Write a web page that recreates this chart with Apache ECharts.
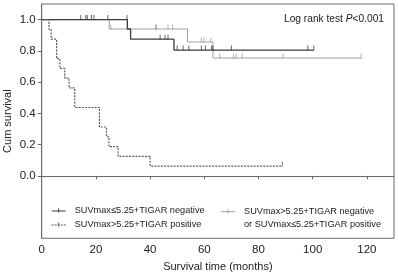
<!DOCTYPE html>
<html><head><meta charset="utf-8">
<script src="https://cdn.jsdelivr.net/npm/echarts@6/dist/echarts.min.js"></script>
<style>html,body{margin:0;padding:0;background:#fff}#c{width:398px;height:279px}</style>
</head><body><div id="c"></div>
<script>
// ---- data ----
var names = ['SUVmax≤5.25+TIGAR negative', 'SUVmax>5.25+TIGAR positive', 'SUVmax>5.25+TIGAR negative'];
var legend3Label = 'SUVmax>5.25+TIGAR negative\nor SUVmax≤5.25+TIGAR positive';

var negTimes = [0, 31.6, 32.8, 48.8, 100.4];
var negSurv  = [1.0, 0.94, 0.875, 0.805, 0.805];
var negCensor = [14.4, 16.3, 16.8, 18.4, 19.3, 24.4, 31.5, 43.7, 45.5, 46.6, 50.0, 52.2, 54.3, 58.9, 60.4, 62.7, 63.2, 70.0, 98.2, 100.4];

var posTimes = [0, 2.7, 3.5, 5.5, 6.7, 8.5, 10.1, 12.2, 21.3, 23.9, 24.8, 28.2, 40.0, 88.8];
var posSurv  = [1.0, 0.9375, 0.875, 0.75, 0.6875, 0.625, 0.5625, 0.4375, 0.3125, 0.25, 0.1875, 0.125, 0.0625, 0.0625];
var posCensor = [88.8];

var mixTimes = [0, 24.9, 53.8, 63.2, 117.9];
var mixSurv  = [1.0, 0.94, 0.857, 0.754, 0.754];
var mixCensor = [25.5, 42.0, 42.4, 46.6, 48.3, 58.9, 59.8, 62.4, 65.7, 70.8, 71.7, 74.0, 89.0, 117.9];

var xTicks = [0, 20, 40, 60, 80, 100, 120];
var yTicks = [0, 0.2, 0.4, 0.6, 0.8, 1.0];

// ---- helpers ----
function pairs(t, s) { return t.map(function (v, i) { return [v, s[i]]; }); }
function survAt(t, s, x) { var v = s[0]; for (var i = 0; i < t.length; i++) { if (t[i] <= x) v = s[i]; } return v; }
function censorPts(t, s, c) { return c.map(function (x) { return [x, survAt(t, s, x)]; }); }

var cDark = '#3c3c3c', cDash = '#5a5a5a', cGray = '#a0a0a0';
var iconSolid = 'path://M0,2h14v1h-14z M6.5,0h1v4h-1z';
var iconDash = 'path://M0,2h2v1h-2z M3,2h2v1h-2z M6,2h2v1h-2z M9,2h2v1h-2z M12,2h2v1h-2z M6.5,0h1v4h-1z';
var iconSolid2 = 'path://M0,2h14v1h-14z M6.5,0h1v4h-1z M13.98,17.48h0.02v0.02h-0.02z';

var font = 'Liberation Sans, Arial, sans-serif';
var chart = echarts.init(document.getElementById('c'), null, {renderer: 'canvas'});
function censorSeries(name, data, color) {
  return { name: name, type: 'scatter', data: data, symbol: 'rect', symbolSize: [1, 5], symbolOffset: [0, -2],
    itemStyle: { color: color }, silent: true, z: 4 };
}
chart.setOption({
  animation: false,
  textStyle: { fontFamily: font },
  grid: { left: 41.7, right: 4, top: 4, bottom: 40.7, show: true, borderColor: '#6a6a6a', borderWidth: 1,
    containLabel: false, outerBoundsMode: 'none' },
  xAxis: {
    type: 'value', min: 0, max: 130, interval: 20,
    name: 'Survival time (months)', nameLocation: 'middle', nameGap: 23, nameMoveOverlap: false,
    nameTextStyle: { fontSize: 11, color: '#222', fontFamily: font },
    axisLine: { lineStyle: { color: '#6a6a6a', width: 1 } },
    axisTick: { show: true, length: 3.5, lineStyle: { color: '#6a6a6a' }, customValues: xTicks },
    axisLabel: { fontSize: 11.5, color: '#222', margin: 6, customValues: xTicks,
      formatter: function (v) { return v <= 120 ? String(v) : ''; } },
    splitLine: { show: false }
  },
  yAxis: {
    type: 'value', min: -0.4, max: 1.1, interval: 0.2,
    name: 'Cum survival', nameLocation: 'middle', nameGap: 28, nameMoveOverlap: false,
    nameTextStyle: { fontSize: 11, color: '#222', fontFamily: font },
    axisLine: { show: true, lineStyle: { color: '#6a6a6a', width: 1 } },
    axisTick: { show: true, length: 4, lineStyle: { color: '#6a6a6a' }, customValues: yTicks },
    axisLabel: { fontSize: 11.5, color: '#222', margin: 6, customValues: yTicks,
      formatter: function (v) { return (v < -1e-9 || v > 1.0001) ? '' : v.toFixed(1); } },
    splitLine: { show: false }
  },
  legend: [
    { data: [{ name: names[0], icon: iconSolid }, { name: names[1], icon: iconDash }],
      orient: 'vertical', left: 51.7, top: 206, padding: 0, itemGap: 5, itemWidth: 14, itemHeight: 4,
      selectedMode: false,
      textStyle: { fontSize: 9.2, color: '#222', fontFamily: font, padding: [0, 0, 0, 4] } },
    { data: [{ name: names[2], icon: iconSolid2 }],
      orient: 'vertical', left: 221, top: 205.5, padding: 0, itemWidth: 14, itemHeight: 17.5,
      selectedMode: false,
      formatter: function () { return legend3Label; },
      textStyle: { fontSize: 9.2, lineHeight: 12.5, color: '#222', fontFamily: font, padding: [0, 0, 0, 4] } }
  ],
  graphic: [{
    type: 'text', right: 14, top: 14,
    style: { text: 'Log rank test {i|P}<0.001', fontSize: 10.2, fontFamily: font, fill: '#222',
      rich: { i: { fontStyle: 'italic', fontSize: 10.2, fontFamily: font, fill: '#222' } } }
  }],
  series: [
    { name: names[2], type: 'line', step: 'end', data: pairs(mixTimes, mixSurv), symbol: 'none',
      lineStyle: { color: cGray, width: 1 }, itemStyle: { color: cGray }, z: 2 },
    { name: names[0], type: 'line', step: 'end', data: pairs(negTimes, negSurv), symbol: 'none',
      lineStyle: { color: cDark, width: 1.3 }, itemStyle: { color: cDark }, z: 3 },
    { name: names[1], type: 'line', step: 'end', data: pairs(posTimes, posSurv), symbol: 'none',
      lineStyle: { color: cDash, width: 1.2, type: [2, 1.2] }, itemStyle: { color: cDash }, z: 3 },
    censorSeries('censor-mix', censorPts(mixTimes, mixSurv, mixCensor), cGray),
    censorSeries('censor-neg', censorPts(negTimes, negSurv, negCensor), cDark),
    censorSeries('censor-pos', censorPts(posTimes, posSurv, posCensor), cDash)
  ]
});
</script></body></html>
